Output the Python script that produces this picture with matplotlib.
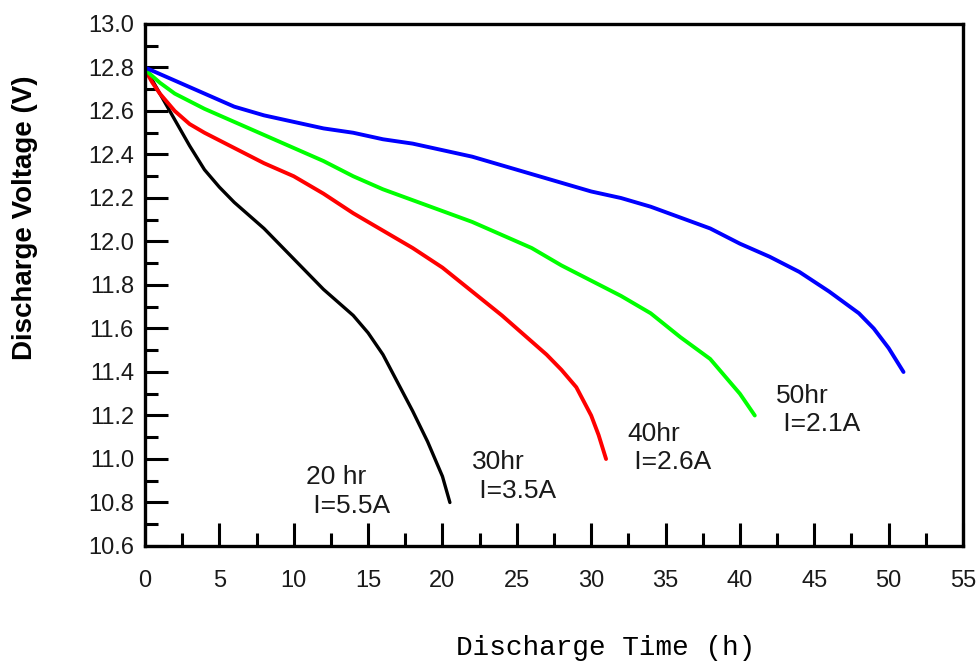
# coding: utf-8
"""Discharge voltage vs. time curves at four discharge rates."""
import matplotlib
matplotlib.use("Agg")
import matplotlib.pyplot as plt
from matplotlib.ticker import MultipleLocator, FormatStrFormatter

# ----- Data (time in h, voltage in V) -----
t_20hr = [0, 0.5, 1, 2, 3, 4, 5, 6, 7, 8, 9, 10, 11, 12, 13, 14, 15, 16, 17,
          18, 19, 20, 20.5]
v_20hr = [12.79, 12.74, 12.68, 12.56, 12.44, 12.33, 12.25, 12.18, 12.12, 12.06,
          11.99, 11.92, 11.85, 11.78, 11.72, 11.66, 11.58, 11.48, 11.35, 11.22,
          11.08, 10.92, 10.80]

t_30hr = [0, 0.5, 1, 2, 3, 4, 6, 8, 10, 12, 14, 16, 18, 20, 22, 24, 26, 27,
          28, 29, 30, 30.5, 31]
v_30hr = [12.79, 12.73, 12.68, 12.60, 12.54, 12.50, 12.43, 12.36, 12.30, 12.22,
          12.13, 12.05, 11.97, 11.88, 11.77, 11.66, 11.54, 11.48, 11.41, 11.33,
          11.20, 11.11, 11.00]

t_40hr = [0, 0.5, 1, 2, 4, 6, 8, 10, 12, 14, 16, 18, 20, 22, 24, 26, 28, 30,
          32, 34, 36, 38, 39, 40, 41]
v_40hr = [12.79, 12.76, 12.73, 12.68, 12.61, 12.55, 12.49, 12.43, 12.37, 12.30,
          12.24, 12.19, 12.14, 12.09, 12.03, 11.97, 11.89, 11.82, 11.75, 11.67,
          11.56, 11.46, 11.38, 11.30, 11.20]

t_50hr = [0, 1, 2, 3, 4, 6, 8, 10, 12, 14, 16, 18, 20, 22, 24, 26, 28, 30, 32,
          34, 36, 38, 40, 42, 44, 46, 48, 49, 50, 51]
v_50hr = [12.80, 12.77, 12.74, 12.71, 12.68, 12.62, 12.58, 12.55, 12.52, 12.50,
          12.47, 12.45, 12.42, 12.39, 12.35, 12.31, 12.27, 12.23, 12.20, 12.16,
          12.11, 12.06, 11.99, 11.93, 11.86, 11.77, 11.67, 11.60, 11.51, 11.40]

rate_labels = ["20 hr\n I=5.5A", "30hr\n I=3.5A", "40hr\n I=2.6A", "50hr\n I=2.1A"]
label_x = [10.8, 22.0, 32.4, 42.4]
label_y = [10.85, 10.92, 11.05, 11.225]


def main() -> None:
    plt.rcParams["font.family"] = ["Liberation Sans", "DejaVu Sans"]

    fig = plt.figure(figsize=(9.78, 6.66), dpi=100)
    ax = fig.add_axes([145 / 978, 1 - 546 / 666, (963 - 145) / 978, (546 - 24) / 666])

    ax.plot(t_20hr, v_20hr, color="black", lw=2.4, solid_capstyle="round")
    ax.plot(t_30hr, v_30hr, color="#ff0000", lw=2.8, solid_capstyle="round")
    ax.plot(t_40hr, v_40hr, color="#00ff00", lw=2.8, solid_capstyle="round")
    ax.plot(t_50hr, v_50hr, color="#0000ff", lw=2.8, solid_capstyle="round")

    for txt, x, y in zip(rate_labels, label_x, label_y):
        ax.text(x, y, txt, ha="left", va="center", fontsize=19,
                color="#1a1a1a", linespacing=1.25)

    ax.set_xlim(0, 55)
    ax.set_ylim(10.6, 13.0)
    ax.xaxis.set_major_locator(MultipleLocator(5))
    ax.xaxis.set_minor_locator(MultipleLocator(2.5))
    ax.yaxis.set_major_locator(MultipleLocator(0.2))
    ax.yaxis.set_minor_locator(MultipleLocator(0.1))
    ax.yaxis.set_major_formatter(FormatStrFormatter("%.1f"))

    ax.tick_params(which="both", direction="in", width=2.2, color="black")
    ax.tick_params(which="major", length=16.5)
    ax.tick_params(which="minor", length=9.5)
    ax.tick_params(axis="x", which="major", pad=17, labelsize=17, labelcolor="#1a1a1a")
    ax.tick_params(axis="y", which="major", pad=8, labelsize=17, labelcolor="#1a1a1a")
    ax.tick_params(top=False, right=False, which="both")

    for side in ["left", "bottom", "right", "top"]:
        ax.spines[side].set_linewidth(2.4)

    # axis titles placed like the original (offset from axes centre)
    fig.text(25 / 978, 1 - 218 / 666, "Discharge Voltage (V)", rotation=90,
             ha="center", va="center", fontsize=20, fontweight="bold")
    fig.text(606 / 978, 1 - 648 / 666, "Discharge Time (h)", ha="center",
             va="center", fontsize=20, family=["Liberation Mono", "DejaVu Sans Mono"])

    fig.savefig("out.png", dpi=100)


if __name__ == "__main__":
    main()
